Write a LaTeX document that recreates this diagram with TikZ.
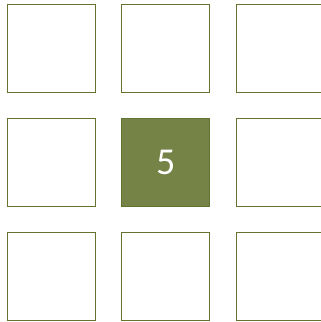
\documentclass[tikz,border=0pt]{standalone}
\usepackage{fontspec}
\setmainfont{Carlito}
\definecolor{olivedge}{RGB}{100,115,48}
\definecolor{olivefill}{RGB}{118,131,71}
\begin{document}
\begin{tikzpicture}[x=1pt, y=-1pt]
    % Cell styles
    \tikzset{cell/.style={rectangle,draw=olivedge,fill=white,line width=1pt,minimum size=88pt,inner sep=0pt}}
    \tikzset{hot cell/.style={cell,fill=olivefill,text=white,font=\fontsize{38}{40}\selectfont}}

    % Frame of the picture (right column is cut off)
    \useasboundingbox (0,0) rectangle (321,322);
    \clip (0,0) rectangle (321,322);

    % Top row
    \node[cell] (c11) at (51.5, 48.3) {};
    \node[cell] (c12) at (165.8, 48.3) {};
    \node[cell] (c13) at (280.1, 48.3) {};

    % Middle row, centre cell highlighted
    \node[cell] (c21) at (51.5, 162.6) {};
    \node[hot cell] (c22) at (165.8, 162.6) {5};
    \node[cell] (c23) at (280.1, 162.6) {};

    % Bottom row
    \node[cell] (c31) at (51.5, 276.9) {};
    \node[cell] (c32) at (165.8, 276.9) {};
    \node[cell] (c33) at (280.1, 276.9) {};
\end{tikzpicture}
\end{document}
